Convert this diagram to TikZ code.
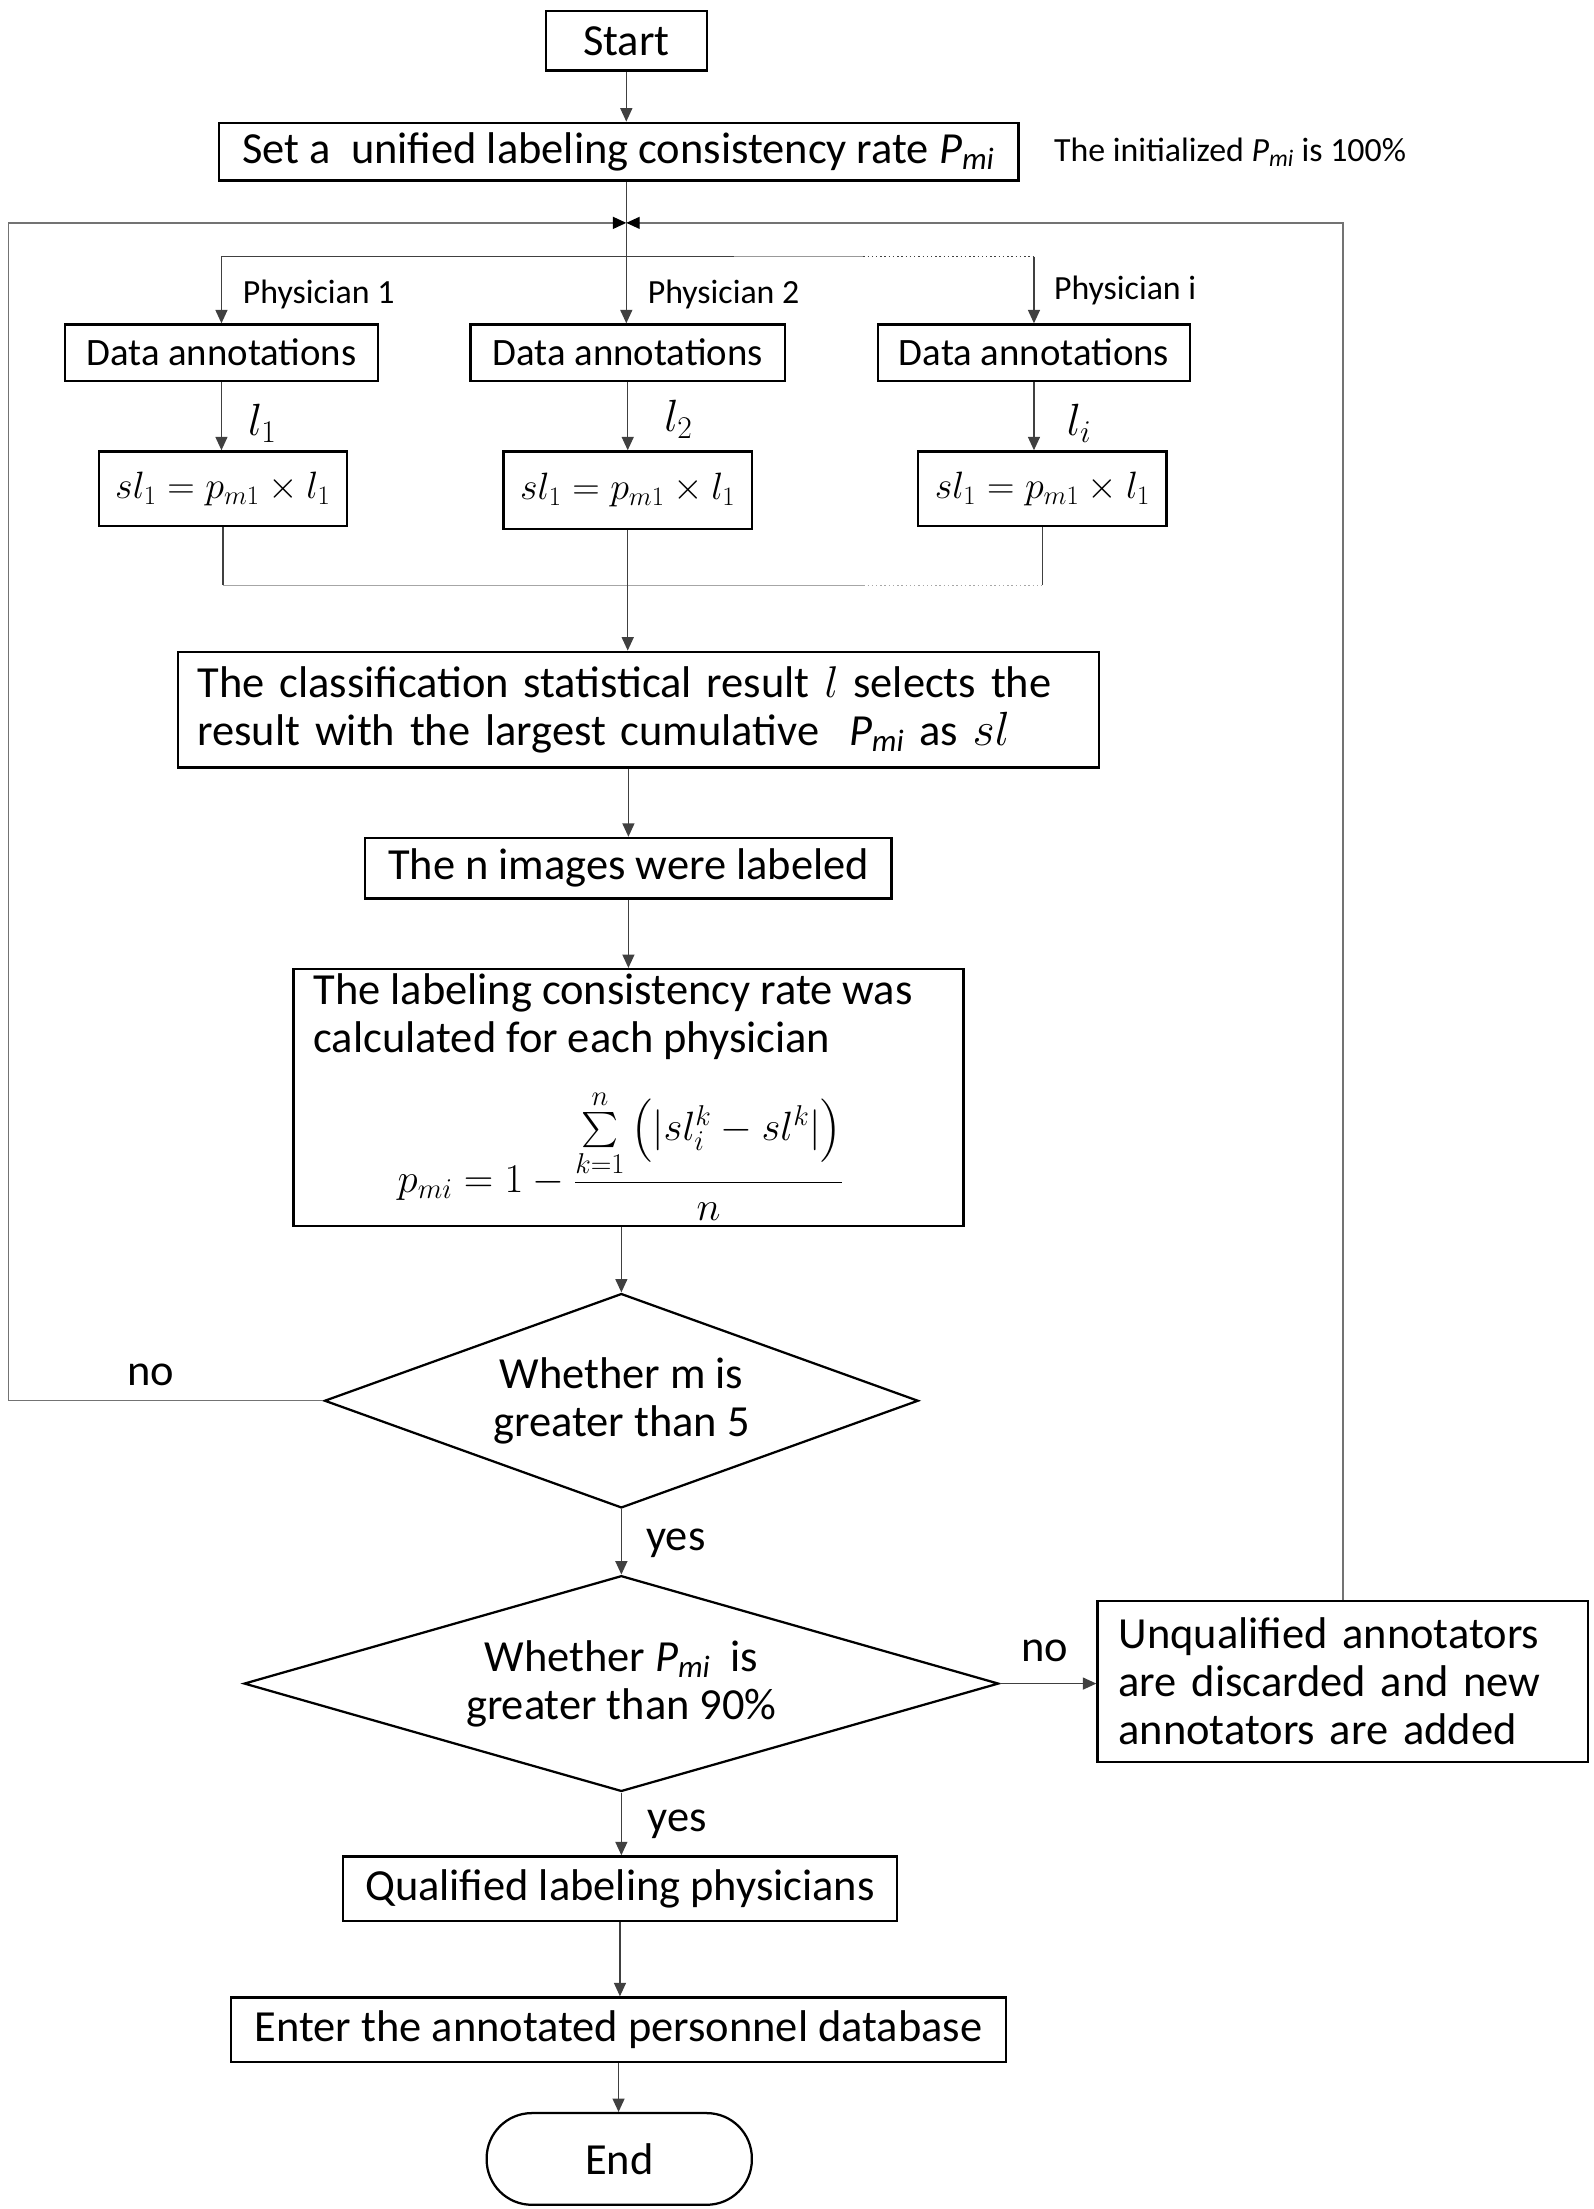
\RequirePackage{fix-cm}
\documentclass[tikz,border=0pt]{standalone}
\usepackage{amsmath}
\usepackage{exscale}
\usepackage{fontspec}
\setmainfont{Carlito}
\usetikzlibrary{shapes.geometric,arrows.meta}
\newcommand{\Pmi}{\textit{P}\textsubscript{\textit{mi}}}
\begin{document}
\begin{tikzpicture}[x=1pt,y=-1pt,
  box/.style={draw=black, line width=1.6pt, inner sep=0pt, font=\fontsize{31.5}{34}\selectfont, align=center},
  dec/.style={diamond, draw=black, line width=1.6pt, inner sep=0pt, font=\fontsize{31.5}{34}\selectfont, align=center},
  conn/.style={draw=black!75, line width=1pt},
  arr/.style={conn, -{Triangle[width=8.5pt,length=9.5pt]}},
  loopline/.style={draw=black!55, line width=1pt, -{Triangle[width=8.5pt,length=9.5pt,color=black]}},
  lbl/.style={font=\fontsize{31.5}{34}\selectfont, inner sep=0pt},
  small/.style={font=\fontsize{24}{28}\selectfont, inner sep=0pt},
  mth/.style={font=\fontsize{27}{32}\selectfont, inner sep=0pt},
]
\useasboundingbox (0,0) rectangle (1130,1566);

% nodes
\node[box, minimum width=114pt, minimum height=42pt] (start) at (444,29) {Start};
\node[box, minimum width=567pt, minimum height=41pt] (set) at (438.5,107.5) {Set a\ \ unified labeling consistency rate \Pmi};
\node[small, anchor=west] (init) at (747,108) {The initialized \Pmi\ is 100\%};

\node[box, font=\fontsize{27.5}{32}\selectfont, minimum width=222pt, minimum height=40pt] (da1) at (157,250) {Data annotations};
\node[box, font=\fontsize{27.5}{32}\selectfont, minimum width=223pt, minimum height=40pt] (da2) at (445,250) {Data annotations};
\node[box, font=\fontsize{27.5}{32}\selectfont, minimum width=221pt, minimum height=40pt] (da3) at (733,250) {Data annotations};

\node[small, anchor=west] (ph1) at (172,209) {Physician 1};
\node[small, anchor=west] (ph2) at (459,209) {Physician 2};
\node[small, anchor=west] (ph3) at (747,206) {Physician i};

\node[box, mth, minimum width=176pt, minimum height=53pt] (sl1) at (158,346.5) {$sl_1 = p_{m1}\times l_1$};
\node[box, mth, minimum width=176pt, minimum height=55pt] (sl2) at (445,347.5) {$sl_1 = p_{m1}\times l_1$};
\node[box, mth, minimum width=176pt, minimum height=53pt] (sl3) at (739,346.5) {$sl_1 = p_{m1}\times l_1$};

\node[lbl, font=\fontsize{32}{36}\selectfont] (l1) at (186,300) {$l_1$};
\node[lbl, font=\fontsize{32}{36}\selectfont] (l2) at (481,297) {$l_2$};
\node[lbl, font=\fontsize{32}{36}\selectfont] (l3) at (765,300) {$l_i$};

\node[box, align=left, text width=625pt, inner xsep=14pt, minimum height=82pt] (cls) at (452.5,503)
  {The classification statistical result $l$ selects the\\result with the largest cumulative\ \ \Pmi\ as\ {\fontsize{34}{34}\selectfont$sl$}};

\node[box, minimum width=373pt, minimum height=43pt] (nimg) at (445.5,615.5) {The n images were labeled};

\node[box, minimum width=475pt, minimum height=182pt] (calc) at (445.5,778) {};
\node[lbl, anchor=north west, align=left] (calct) at (222,690) {The labeling consistency rate was\\calculated for each physician};
\node[mth, font=\fontsize{29}{32}\selectfont] (form) at (440,819) {$\displaystyle p_{mi} = 1 - \frac{\sum\limits_{k=1}^{n}\left(|sl_i^k - sl^k|\right)}{n}$};

\node[dec, aspect=2.77, minimum width=421pt, minimum height=152pt] (d1) at (440.5,993) {Whether m is\\greater than 5};
\node[dec, aspect=3.5, minimum width=535pt, minimum height=153pt] (d2) at (440.5,1193.5) {Whether \Pmi\ \ is\\greater than 90\%};

\node[box, align=left, text width=318pt, inner xsep=15pt, minimum height=114pt] (unq) at (952,1192)
  {Unqualified annotators\\are discarded and new\\annotators are added};

\node[box, minimum width=393pt, minimum height=46pt] (qual) at (439.5,1339) {Qualified labeling physicians};
\node[box, minimum width=549pt, minimum height=46pt] (enter) at (438.5,1439) {Enter the annotated personnel database};
\node[box, minimum width=188pt, minimum height=65pt, rounded corners=32pt] (end) at (439,1530.5) {End};

\node[lbl, anchor=west] (no1) at (90,975) {no};
\node[lbl, anchor=west] (yes1) at (458,1094) {yes};
\node[lbl, anchor=west] (no2) at (724,1170) {no};
\node[lbl, anchor=west] (yes2) at (459,1293) {yes};

% coordinates
\coordinate (m) at (444,158);
\coordinate (dist) at (444,182);
\coordinate (dgray) at (520,182);
\coordinate (dsplit) at (612,182);
\coordinate (col) at (444,415);
\coordinate (csplit) at (612,415);
\coordinate (lft) at (6,993);

% connectors
\draw[arr] (start.south) -- (start.south |- set.north);
\draw[conn] (set.south -| m) -- (dist);
\draw[conn] (da1.north |- dist) -- (dgray);
\draw[conn, draw=black!40] (dgray) -- (dsplit);
\draw[conn, dotted] (dsplit) -- (da3.north |- dist);
\draw[arr] (da1.north |- dist) -- (da1.north);
\draw[arr] (dist) -- (dist |- da2.north);
\draw[arr] (da3.north |- dist) -- (da3.north);

\draw[arr] (da1.south) -- (da1.south |- sl1.north);
\draw[arr] (da2.south) -- (da2.south |- sl2.north);
\draw[arr] (da3.south) -- (da3.south |- sl3.north);

\draw[conn] (sl1.south) -- (sl1.south |- col);
\draw[conn] (sl3.south) -- (sl3.south |- col);
\draw[conn, draw=black!35] (sl1.south |- col) -- (csplit);
\draw[conn, draw=black!35, dotted] (csplit) -- (sl3.south |- col);
\draw[arr] (sl2.south) -- (sl2.south |- cls.north);

\draw[arr] (cls.south -| nimg) -- (nimg.north);
\draw[arr] (nimg.south) -- (nimg.south |- calc.north);
\draw[arr] (calc.south -| d1) -- (d1.north);
\draw[arr] (d1.south) -- (d2.north);
\draw[arr] (d2.south) -- (d2.south |- qual.north);
\draw[arr] (qual.south) -- (qual.south |- enter.north);
\draw[arr] (enter.south) -- (enter.south |- end.north);
\draw[arr] (d2.east) -- (unq.west |- d2.east);

\draw[loopline] (d1.west) -- (lft) |- (m);
\draw[loopline] (unq.north) |- (m);
\end{tikzpicture}
\end{document}
